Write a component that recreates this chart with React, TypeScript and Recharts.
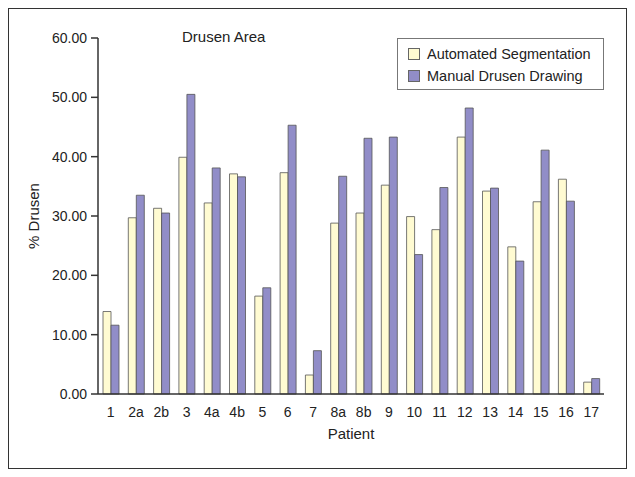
import React from 'react';
import { BarChart, Bar, XAxis, YAxis } from 'recharts';

const patients = ['1', '2a', '2b', '3', '4a', '4b', '5', '6', '7', '8a', '8b', '9', '10', '11', '12', '13', '14', '15', '16', '17'];
const automated = [13.9, 29.7, 31.3, 39.9, 32.2, 37.1, 16.5, 37.3, 3.2, 28.8, 30.5, 35.2, 29.9, 27.7, 43.3, 34.2, 24.8, 32.4, 36.2, 2.0];
const manual = [11.6, 33.5, 30.5, 50.5, 38.1, 36.6, 17.9, 45.3, 7.3, 36.7, 43.1, 43.3, 23.5, 34.8, 48.2, 34.7, 22.4, 41.1, 32.5, 2.6];
const yTicks = [0, 10, 20, 30, 40, 50, 60];
const seriesNames = ['Automated Segmentation', 'Manual Drusen Drawing'];

const data = patients.map((p, i) => ({ patient: p, automated: automated[i], manual: manual[i] }));

const FONT = '"Liberation Sans", Arial, sans-serif';
const YELLOW = '#fffbd2';
const PURPLE = '#918dc8';
const TEXT = '#222';

const LegendBox = () => (
  <div style={{
    position: 'absolute', left: 397, top: 38, width: 207, height: 52, boxSizing: 'border-box',
    border: '1px solid #777', background: '#fff', padding: '4px 0 0 10px',
    fontFamily: FONT, fontSize: 14.5, color: TEXT, lineHeight: '22px',
  }}>
    {seriesNames.map((t, i) => (
      <div key={t} style={{ display: 'flex', alignItems: 'center' }}>
        <span style={{
          display: 'inline-block', width: 12, height: 12, boxSizing: 'border-box',
          background: i === 0 ? YELLOW : PURPLE, border: '1px solid #666', marginRight: 7,
        }} />
        {t}
      </div>
    ))}
  </div>
);

export default function App() {
  return (
    <div style={{ position: 'absolute', left: 0, top: 0, width: 635, height: 477, background: '#fff' }}>
      <div style={{ position: 'absolute', left: 8, top: 8, width: 619, height: 461, border: '1.5px solid #333', boxSizing: 'border-box' }} />
      <div style={{ position: 'absolute', left: 0, top: 0 }}>
        <BarChart width={635} height={477} data={data} barSize={8} barGap={0}
          margin={{ top: 38, right: 31, bottom: 33, left: 28 }}>
          <XAxis dataKey="patient" height={50} tickLine={false} axisLine={{ stroke: '#333', strokeWidth: 1.5 }}
            tick={{ fill: TEXT, fontSize: 14, fontFamily: FONT }} tickMargin={7} interval={0}
            label={{
              content: (p: any) => (
                <text x={p.viewBox.x + p.viewBox.width / 2} y={p.viewBox.y + 45} textAnchor="middle"
                  fill={TEXT} fontSize={15} fontFamily={FONT}>Patient</text>
              ),
            }} />
          <YAxis width={70} domain={[0, 60]} ticks={yTicks} tickFormatter={(v: number) => v.toFixed(2)}
            axisLine={{ stroke: '#333', strokeWidth: 1.5 }} tickLine={{ stroke: '#333', strokeWidth: 1.5 }} tickSize={7}
            tick={{ fill: TEXT, fontSize: 14, fontFamily: FONT }} tickMargin={4}
            label={{
              content: (p: any) => {
                const x = 33;
                const y = p.viewBox.y + p.viewBox.height / 2;
                return (
                  <text x={x} y={y} transform={`rotate(-90 ${x} ${y})`} textAnchor="middle" dominantBaseline="central"
                    fill={TEXT} fontSize={15} fontFamily={FONT}>% Drusen</text>
                );
              },
            }} />
          <Bar dataKey="automated" name={seriesNames[0]} fill={YELLOW} stroke="#555" strokeWidth={0.8} isAnimationActive={false} />
          <Bar dataKey="manual" name={seriesNames[1]} fill={PURPLE} stroke="#555" strokeWidth={0.8} isAnimationActive={false} />
        </BarChart>
      </div>
      <div style={{ position: 'absolute', left: 182, top: 28, fontFamily: FONT, fontSize: 15, color: TEXT }}>Drusen Area</div>
      <LegendBox />
    </div>
  );
}
